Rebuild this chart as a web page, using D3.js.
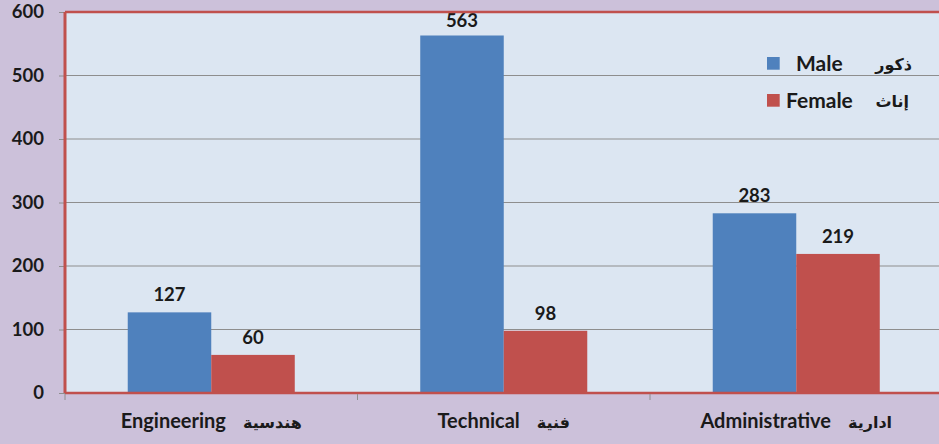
<!DOCTYPE html>
<html><head><meta charset="utf-8">
<script src="https://cdn.jsdelivr.net/npm/d3@7"></script>
<style>
html,body{margin:0;padding:0;background:#CCC1DA;}
svg{display:block;}
text{font-family:Lato,"DejaVu Sans",sans-serif;font-weight:bold;fill:#1a1a1a;}
</style></head>
<body>
<svg id="c" width="939" height="444"></svg>
<script>
const categories = ["Engineering","Technical","Administrative"];
const categoriesAr = ["هندسية","فنية","ادارية"];
const series = ["Male","Female"];
const seriesAr = ["ذكور","إناث"];
const male = [127,563,283];
const female = [60,98,219];
const yTicks = [0,100,200,300,400,500,600];
const colors = ["#4F81BD","#C0504D"];

(function(){
const svg = d3.select("#c");
const W = 939, H = 444;
const pl = 65, pr = 942.5, pt = 12, pb = 393;

svg.append("rect").attr("width",W).attr("height",H).attr("fill","#CCC1DA");
svg.append("rect").attr("x",pl).attr("y",pt).attr("width",pr-pl).attr("height",pb-pt).attr("fill","#DCE6F2");

const y = d3.scaleLinear().domain([0,600]).range([pb,pt]);
const x0 = d3.scaleBand().domain(categories).range([pl,pr]).padding(0);
const x1 = d3.scaleBand().domain(series).range([x0.bandwidth()*0.2145, x0.bandwidth()*(1-0.2145)]).padding(0);

svg.append("g").selectAll("line").data(yTicks.filter(d=>d>0 && d<600)).join("line")
  .attr("x1",pl).attr("x2",pr).attr("y1",d=>y(d)).attr("y2",d=>y(d))
  .attr("stroke","#8E8E8E").attr("stroke-width",1.2);

const yAxis = d3.axisLeft(y).tickValues(yTicks).tickSize(6).tickPadding(15);
const ga = svg.append("g").attr("transform",`translate(${pl},0)`).call(yAxis);
ga.select(".domain").remove();
ga.selectAll(".tick line").attr("stroke","#8E8E8E");
ga.selectAll(".tick text").attr("font-size",18.5).attr("font-family","Lato,'DejaVu Sans',sans-serif").attr("font-weight","bold").attr("fill","#1a1a1a");

const data = categories.map((c,i)=>({c, vals:[{s:"Male",v:male[i]},{s:"Female",v:female[i]}]}));
const g = svg.append("g").selectAll("g").data(data).join("g").attr("transform",d=>`translate(${x0(d.c)},0)`);
g.selectAll("rect").data(d=>d.vals).join("rect")
  .attr("x",d=>x1(d.s)).attr("width",x1.bandwidth())
  .attr("y",d=>y(d.v)).attr("height",d=>pb-y(d.v))
  .attr("fill",(d,i)=>colors[i]);
g.selectAll("text").data(d=>d.vals).join("text")
  .attr("x",d=>x1(d.s)+x1.bandwidth()/2).attr("y",d=>Math.max(y(d.v)-11, 27))
  .attr("text-anchor","middle").attr("font-size",18.5).text(d=>d.v);

svg.append("line").attr("x1",pl).attr("x2",pr).attr("y1",pt).attr("y2",pt).attr("stroke","#C0504D").attr("stroke-width",2.5);
svg.append("line").attr("x1",pl).attr("x2",pl).attr("y1",pt).attr("y2",pb).attr("stroke","#C0504D").attr("stroke-width",3);
svg.append("line").attr("x1",pl).attr("x2",pr).attr("y1",pb).attr("y2",pb).attr("stroke","#C0504D").attr("stroke-width",2.5);

svg.append("g").selectAll("line").data(categories).join("line")
  .attr("x1",d=>x0(d)).attr("x2",d=>x0(d)).attr("y1",pb+1).attr("y2",pb+7)
  .attr("stroke","#8E8E8E");

const cl = svg.append("g").selectAll("text").data(categories).join("text")
  .attr("x",d=>x0(d)+x0.bandwidth()/2).attr("y",428).attr("text-anchor","middle").attr("font-size",20);
cl.append("tspan").text(d=>d);
cl.append("tspan").attr("dx",17).attr("font-size",16).text((d,i)=>categoriesAr[i]);

const leg = svg.append("g").selectAll("g").data(series).join("g")
  .attr("transform",(d,i)=>`translate(767,${71+i*37})`);
leg.append("rect").attr("x",0).attr("y",-14).attr("width",12.7).attr("height",12.7).attr("fill",(d,i)=>colors[i]);
leg.append("text").attr("x",(d,i)=>i===0?29:19).attr("y",0).attr("font-size",21).text(d=>d);
leg.append("text").attr("x",(d,i)=>i===0?145:142).attr("y",-1).attr("text-anchor","end").attr("font-size",16).text((d,i)=>seriesAr[i]);
})();
</script>
</body></html>
